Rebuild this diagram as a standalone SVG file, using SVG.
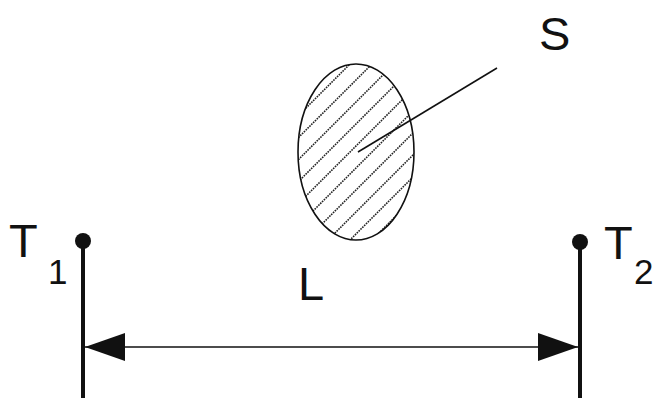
<svg xmlns="http://www.w3.org/2000/svg" width="653" height="398" viewBox="0 0 653 398">
<style>
.lbl{font-family:"Liberation Sans",Arial,sans-serif;fill:#111;}
.big{font-size:47px;}
.sub{font-size:35px;}
.post{stroke:#111;stroke-width:4;fill:none;}
.thin{stroke:#111;stroke-width:1.6;fill:none;}
.hatch{stroke:#222;stroke-width:1.6;stroke-dasharray:1.6 1;fill:none;}
</style>
<defs>
<clipPath id="ec"><ellipse cx="356" cy="152" rx="58" ry="88"/></clipPath>
<marker id="ah" viewBox="0 0 40 28" refX="40" refY="14" markerWidth="40" markerHeight="28" markerUnits="userSpaceOnUse" orient="auto-start-reverse">
<path d="M0,0 L40,14 L0,28 Z" fill="#111"/>
</marker>
</defs>
<rect width="653" height="398" fill="#fff"/>
<g id="S">
<g clip-path="url(#ec)" class="hatch">
<path d="M100,270 L310,60 M122,270 L332,60 M144,270 L354,60 M166,270 L376,60 M188,270 L398,60 M210,270 L420,60 M232,270 L442,60 M254,270 L464,60 M276,270 L486,60 M298,270 L508,60 M320,270 L530,60 M342,270 L552,60"/>
</g>
<ellipse cx="356" cy="152" rx="58" ry="88" class="thin" stroke-width="1.4"/>
<text x="539" y="50" class="lbl big">S</text>
</g>
<g id="T1">
<circle cx="83" cy="241" r="8" fill="#111"/>
<line x1="83" y1="241" x2="83" y2="398" class="post"/>
<text x="9" y="257" class="lbl big">T</text>
<text x="48" y="284" class="lbl sub">1</text>
</g>
<g id="T2">
<circle cx="580" cy="242" r="8" fill="#111"/>
<line x1="580" y1="242" x2="580" y2="398" class="post"/>
<text x="604" y="259" class="lbl big">T</text>
<text x="634" y="284" class="lbl sub">2</text>
</g>
<g id="connectors">
<line x1="358" y1="152" x2="497" y2="68" class="thin"/>
<line x1="85" y1="347" x2="578" y2="347" class="thin" stroke-width="1.4" marker-start="url(#ah)" marker-end="url(#ah)"/>
<text x="298" y="300" class="lbl big">L</text>
</g>
</svg>
